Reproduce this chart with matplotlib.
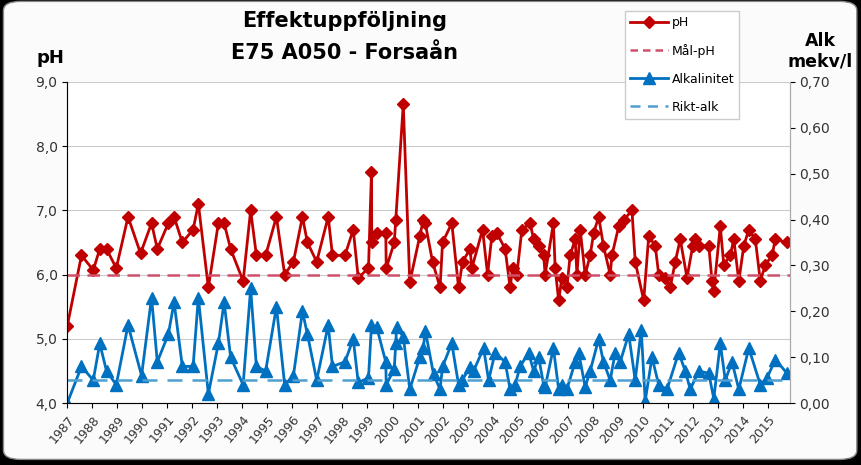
import matplotlib
matplotlib.use("Agg")
import matplotlib.pyplot as plt
import matplotlib.patches as mpatches
from matplotlib.lines import Line2D

# pH-mätningar (decimalår, pH)
ph_year = [1987.0, 1987.57, 1988.04, 1988.3, 1988.57, 1988.96, 1989.43, 1989.93, 1990.37, 1990.6,
           1991.04, 1991.27, 1991.6, 1992.03, 1992.24, 1992.64, 1993.04, 1993.27, 1993.53, 1994.03,
           1994.33, 1994.56, 1994.93, 1995.36, 1995.69, 1996.04, 1996.4, 1996.6, 1996.97, 1997.43,
           1997.6, 1998.1, 1998.43, 1998.63, 1999.04, 1999.16, 1999.17, 1999.37, 1999.73, 1999.75,
           2000.07, 2000.13, 2000.43, 2000.69, 2001.09, 2001.23, 2001.31, 2001.6, 2001.9, 2002.0,
           2002.37, 2002.64, 2002.8, 2003.1, 2003.17, 2003.6, 2003.8, 2003.97, 2004.17, 2004.5,
           2004.7, 2004.8, 2004.97, 2005.17, 2005.5, 2005.64, 2005.84, 2006.04, 2006.1, 2006.43,
           2006.5, 2006.64, 2006.77, 2006.97, 2007.1, 2007.3, 2007.37, 2007.5, 2007.7, 2007.9,
           2008.04, 2008.24, 2008.43, 2008.7, 2008.77, 2009.04, 2009.24, 2009.57, 2009.7, 2010.04,
           2010.24, 2010.5, 2010.64, 2010.9, 2011.1, 2011.3, 2011.5, 2011.77, 2012.0, 2012.1,
           2012.24, 2012.64, 2012.77, 2012.84, 2013.1, 2013.24, 2013.5, 2013.64, 2013.84, 2014.04,
           2014.24, 2014.5, 2014.7, 2014.9, 2015.17, 2015.3, 2015.77]
ph_value = [5.2, 6.3, 6.07, 6.4, 6.4, 6.1, 6.9, 6.33, 6.8, 6.4,
            6.8, 6.9, 6.5, 6.7, 7.1, 5.8, 6.8, 6.8, 6.4, 5.9,
            7.0, 6.3, 6.3, 6.9, 6.0, 6.2, 6.9, 6.5, 6.2, 6.9,
            6.3, 6.3, 6.7, 5.95, 6.1, 7.6, 6.5, 6.65, 6.65, 6.1,
            6.5, 6.85, 8.65, 5.88, 6.6, 6.85, 6.8, 6.2, 5.8, 6.5,
            6.8, 5.8, 6.2, 6.4, 6.1, 6.7, 6.0, 6.6, 6.65, 6.4,
            5.8, 6.1, 6.0, 6.7, 6.8, 6.55, 6.45, 6.3, 6.0, 6.8,
            6.1, 5.6, 5.95, 5.8, 6.3, 6.55, 6.0, 6.7, 6.0, 6.3,
            6.65, 6.9, 6.45, 6.0, 6.3, 6.75, 6.85, 7.0, 6.2, 5.6,
            6.6, 6.45, 6.0, 5.95, 5.8, 6.2, 6.55, 5.95, 6.45, 6.55,
            6.45, 6.45, 5.9, 5.75, 6.75, 6.15, 6.3, 6.55, 5.9, 6.45,
            6.7, 6.55, 5.9, 6.15, 6.3, 6.55, 6.5]

# Alkalinitet (decimalår, mekv/l)
alk_year = [1987.0, 1987.57, 1988.04, 1988.3, 1988.57, 1988.96, 1989.43, 1989.97, 1990.37, 1990.6,
            1991.04, 1991.27, 1991.6, 1992.03, 1992.24, 1992.64, 1993.04, 1993.27, 1993.53, 1994.03,
            1994.33, 1994.56, 1994.93, 1995.36, 1995.69, 1996.04, 1996.4, 1996.6, 1996.97, 1997.43,
            1997.6, 1998.1, 1998.43, 1998.63, 1999.04, 1999.16, 1999.37, 1999.73, 1999.75, 2000.07,
            2000.13, 2000.16, 2000.43, 2000.69, 2001.09, 2001.23, 2001.31, 2001.64, 2001.9, 2002.0,
            2002.37, 2002.64, 2002.78, 2003.1, 2003.24, 2003.64, 2003.84, 2004.1, 2004.5, 2004.7,
            2004.9, 2005.1, 2005.44, 2005.64, 2005.84, 2006.04, 2006.1, 2006.43, 2006.64, 2006.77,
            2006.97, 2007.3, 2007.44, 2007.7, 2007.9, 2008.24, 2008.43, 2008.7, 2008.9, 2009.1,
            2009.44, 2009.7, 2009.94, 2010.1, 2010.37, 2010.64, 2010.97, 2011.44, 2011.7, 2011.9,
            2012.24, 2012.64, 2012.84, 2013.1, 2013.3, 2013.57, 2013.84, 2014.24, 2014.7, 2014.97,
            2015.3, 2015.77]
alk_value = [0.0, 0.08, 0.05, 0.13, 0.07, 0.04, 0.17, 0.06, 0.23, 0.09,
             0.15, 0.22, 0.08, 0.08, 0.23, 0.02, 0.13, 0.22, 0.10, 0.04,
             0.25, 0.08, 0.07, 0.21, 0.04, 0.06, 0.20, 0.15, 0.05, 0.17,
             0.08, 0.09, 0.14, 0.045, 0.055, 0.17, 0.165, 0.09, 0.04, 0.075,
             0.13, 0.165, 0.145, 0.03, 0.10, 0.12, 0.158, 0.063, 0.03, 0.08,
             0.13, 0.04, 0.05, 0.078, 0.07, 0.12, 0.05, 0.11, 0.09, 0.03,
             0.04, 0.08, 0.11, 0.07, 0.10, 0.04, 0.035, 0.12, 0.03, 0.04,
             0.03, 0.09, 0.11, 0.035, 0.07, 0.14, 0.09, 0.05, 0.11, 0.09,
             0.15, 0.05, 0.16, 0.005, 0.10, 0.04, 0.03, 0.11, 0.07, 0.03,
             0.07, 0.065, 0.01, 0.13, 0.05, 0.09, 0.03, 0.12, 0.04, 0.055,
             0.095, 0.065]

MAL_PH = 6.0
RIKT_ALK = 0.05
years = list(range(1987, 2016))

RED = "#C00000"
BLUE = "#0070C0"

fig = plt.figure(figsize=(8.62, 4.65), dpi=100)
fig.patch.set_facecolor("black")
fig.patches.append(mpatches.FancyBboxPatch(
    (0.004, 0.012), 0.99, 0.985, boxstyle="round,pad=0,rounding_size=0.02",
    transform=fig.transFigure, facecolor="#fbfbfb", edgecolor="#888888", lw=1, zorder=-10))

ax = fig.add_axes([0.078, 0.133, 0.838, 0.691])
ax.set_facecolor("white")
ax.plot(ph_year, ph_value, color=RED, lw=2, marker="D", ms=6)
ax.axhline(MAL_PH, color="#D0506A", lw=1.8, ls=(0, (5, 3)))
ax.set_ylim(4, 9)
ax.set_xlim(1987, 2015.87)
ax.set_yticks([4, 5, 6, 7, 8, 9])
ax.set_yticklabels(["4,0", "5,0", "6,0", "7,0", "8,0", "9,0"], fontsize=10, color="#333333")
ax.set_xticks(years)
ax.set_xticklabels([str(y) for y in years], rotation=50, ha="right", rotation_mode="anchor",
                   fontsize=9, color="#333333")
ax.grid(axis="y", color="#cccccc", lw=0.8)
ax.set_axisbelow(True)
ax.spines["top"].set_visible(False)
for s in ["left", "bottom", "right"]:
    ax.spines[s].set_color("#aaaaaa")

ax2 = ax.twinx()
ax2.plot(alk_year, alk_value, color=BLUE, lw=2, marker="^", ms=8)
ax2.axhline(RIKT_ALK, color="#4F9FD0", lw=1.8, ls=(0, (6, 4)))
ax2.set_ylim(0, 0.7)
ax2.set_yticks([0, 0.1, 0.2, 0.3, 0.4, 0.5, 0.6, 0.7])
ax2.set_yticklabels(["0,00", "0,10", "0,20", "0,30", "0,40", "0,50", "0,60", "0,70"],
                    fontsize=10, color="#333333")
ax2.spines["top"].set_visible(False)
ax2.spines["right"].set_color("#aaaaaa")

fig.text(0.40, 0.955, "Effektuppföljning", ha="center", va="center", fontsize=15, fontweight="bold")
fig.text(0.40, 0.885, "E75 A050 - Forsaån", ha="center", va="center", fontsize=15, fontweight="bold")
fig.text(0.058, 0.875, "pH", ha="center", va="center", fontsize=13, fontweight="bold")
fig.text(0.952, 0.89, "Alk\nmekv/l", ha="center", va="center", fontsize=12.5, fontweight="bold",
         linespacing=1.15)

handles = [
    Line2D([], [], color=RED, lw=2, marker="D", ms=6),
    Line2D([], [], color="#D0506A", lw=1.8, ls=(0, (3, 2))),
    Line2D([], [], color=BLUE, lw=2, marker="^", ms=8),
    Line2D([], [], color="#4F9FD0", lw=1.8, ls=(0, (4, 3))),
]
leg = fig.legend(handles, ["pH", "Mål-pH", "Alkalinitet", "Rikt-alk"],
                 loc="upper left", bbox_to_anchor=(0.718, 0.99), fontsize=9,
                 labelspacing=1.2, handlelength=3, handletextpad=0.3,
                 fancybox=False, framealpha=1, edgecolor="#cccccc")
leg.set_zorder(10)

fig.savefig("out.png", dpi=100, facecolor="black")
